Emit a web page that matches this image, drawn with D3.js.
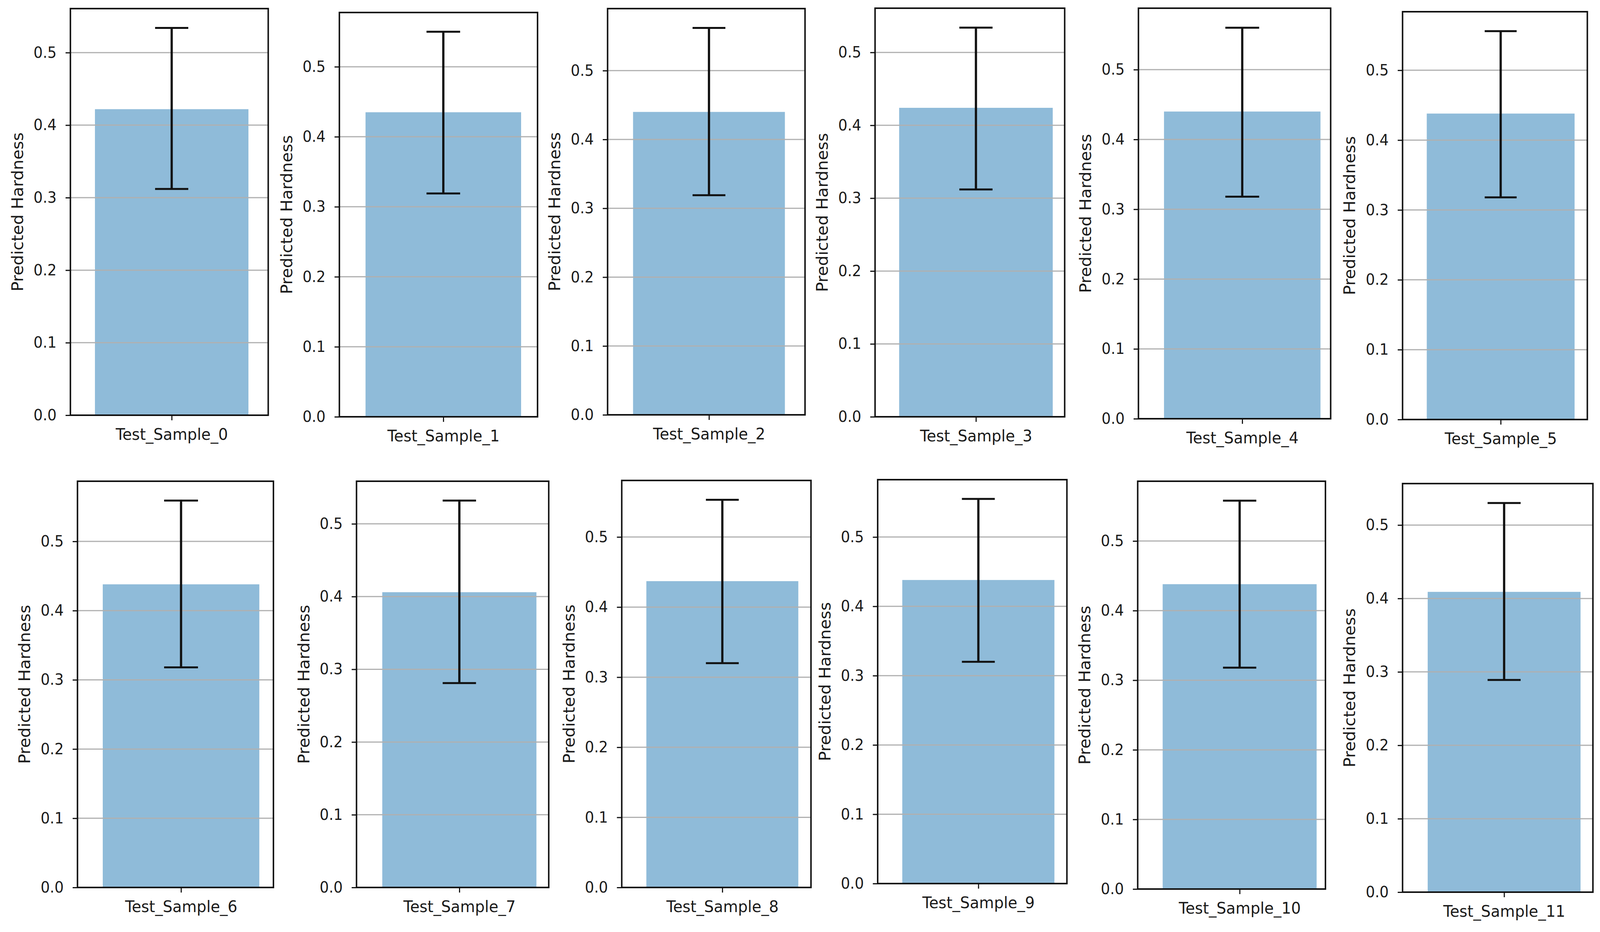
<!DOCTYPE html>
<html>

<head>
  <meta charset="utf-8">
  <script src="https://d3js.org/d3.v7.min.js"></script>
  <style>
    html, body { margin: 0; padding: 0; background: #fff; overflow: hidden; }
    svg { display: block; width: 100vw; height: 100vh; }
    text { font-family: "DejaVu Sans", sans-serif; fill: #1a1a1a; }
  </style>
</head>

<body>
  <script>
    // data
    const samples = ["Test_Sample_0", "Test_Sample_1", "Test_Sample_2", "Test_Sample_3",
      "Test_Sample_4", "Test_Sample_5", "Test_Sample_6", "Test_Sample_7",
      "Test_Sample_8", "Test_Sample_9", "Test_Sample_10", "Test_Sample_11"];
    const means = [0.422, 0.435, 0.440, 0.424, 0.440, 0.438, 0.438, 0.406, 0.437, 0.438, 0.438, 0.409];
    const errHigh = [0.534, 0.550, 0.562, 0.534, 0.560, 0.556, 0.559, 0.532, 0.553, 0.555, 0.558, 0.530];
    const errLow = [0.312, 0.319, 0.319, 0.312, 0.318, 0.318, 0.318, 0.281, 0.320, 0.320, 0.318, 0.289];
    const yTicks = [0, 0.1, 0.2, 0.3, 0.4, 0.5];
    const yLabel = "Predicted Hardness";

    // panel frames [left, top, right, bottom] in figure pixels (the figure is a collage)
    const frames = [
      [189, 22, 720, 1063], [911, 32, 1443, 1067], [1631, 22, 2161, 1062],
      [2349, 21, 2858, 1067], [3056, 21, 3572, 1072], [3765, 30, 4261, 1074],
      [208, 1232, 734, 2272], [957, 1232, 1473, 2272], [1669, 1230, 2177, 2272],
      [2356, 1228, 2864, 2262], [3054, 1232, 3558, 2276], [3765, 1238, 4276, 2284]
    ];
    // where the bar sits inside each frame, as a fraction of the frame width
    const barSpan = [
      [0.124, 0.900], [0.132, 0.917], [0.129, 0.898], [0.127, 0.937],
      [0.133, 0.947], [0.131, 0.931], [0.129, 0.928], [0.134, 0.936],
      [0.130, 0.933], [0.130, 0.934], [0.133, 0.953], [0.132, 0.935]
    ];

    const W = 4295, H = 2386;
    // viewBox so the figure fills the window whatever its css size
    const svg = d3.select("body").append("svg")
      .attr("viewBox", "0 0 " + W + " " + H)
      .attr("preserveAspectRatio", "none");

    svg.append("rect").attr("width", W).attr("height", H).attr("fill", "#fff");

    samples.forEach((name, i) => {
      const [left, top, right, bottom] = frames[i];
      const w = right - left;
      const g = svg.append("g");

      // bar runs from -0.37 to 0.37
      const x = d3.scaleLinear().domain([-0.37, 0.37])
        .range([left + barSpan[i][0] * w, left + barSpan[i][1] * w]);
      const y = d3.scaleLinear().domain([0, errHigh[i] * 1.05]).range([bottom, top]);

      // bar (matplotlib C0 at alpha .5)
      g.append("rect")
        .attr("x", x(-0.37))
        .attr("y", y(means[i]))
        .attr("width", x(0.37) - x(-0.37))
        .attr("height", y(0) - y(means[i]))
        .attr("fill", "#1f77b4")
        .attr("fill-opacity", 0.5);

      // horizontal grid
      g.selectAll(".grid")
        .data(yTicks)
        .enter().append("line")
        .attr("x1", left).attr("x2", right)
        .attr("y1", d => y(d)).attr("y2", d => y(d))
        .attr("stroke", "#b0b0b0")
        .attr("stroke-width", 3);

      // error bar
      g.append("line")
        .attr("x1", x(0)).attr("x2", x(0))
        .attr("y1", y(errLow[i])).attr("y2", y(errHigh[i]))
        .attr("stroke", "#111").attr("stroke-width", 6);
      g.selectAll(".cap")
        .data([errLow[i], errHigh[i]])
        .enter().append("line")
        .attr("x1", x(-0.08)).attr("x2", x(0.08))
        .attr("y1", d => y(d)).attr("y2", d => y(d))
        .attr("stroke", "#111").attr("stroke-width", 5);

      // y axis
      const ya = g.append("g")
        .attr("transform", "translate(" + left + ",0)")
        .call(d3.axisLeft(y).tickValues(yTicks).tickFormat(d3.format(".1f"))
          .tickSize(13).tickPadding(24));
      ya.select(".domain").remove();
      ya.selectAll(".tick line").attr("stroke", "#111").attr("stroke-width", 3);
      ya.selectAll("text").style("font-size", "39px").attr("fill", "#1a1a1a");

      // x axis: single tick under the bar
      const xa = g.append("g")
        .attr("transform", "translate(0," + bottom + ")")
        .call(d3.axisBottom(x).tickValues([0]).tickFormat(() => name)
          .tickSize(13).tickPadding(21));
      xa.select(".domain").remove();
      xa.selectAll(".tick line").attr("stroke", "#111").attr("stroke-width", 3);
      xa.selectAll("text").style("font-size", "41px").attr("fill", "#1a1a1a");

      // spines
      g.append("rect")
        .attr("x", left).attr("y", top)
        .attr("width", w).attr("height", bottom - top)
        .attr("fill", "none")
        .attr("stroke", "#111")
        .attr("stroke-width", 4);

      // y label
      g.append("text")
        .attr("transform", "translate(" + (left - 127) + "," + ((top + bottom) / 2) + ") rotate(-90)")
        .attr("text-anchor", "middle")
        .style("font-size", "42px")
        .text(yLabel);
    });
  </script>
</body>

</html>
